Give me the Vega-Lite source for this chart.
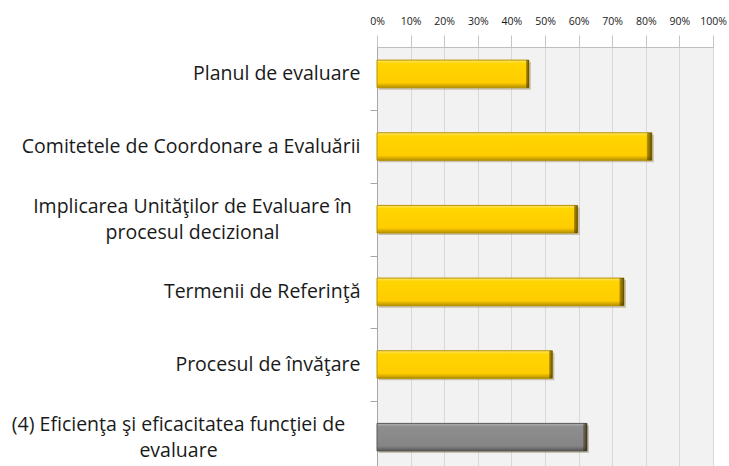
{
  "$schema": "https://vega.github.io/schema/vega-lite/v6.json",
  "autosize": "none",
  "width": 336,
  "height": 420,
  "padding": {"left": 377, "top": 47, "right": 16, "bottom": 0},
  "background": "white",
  "config": {
    "view": {"fill": "#f2f2f2", "stroke": "#c4c4c4"},
    "axisX": {"labelOverlap": false, "labelFlush": false, "labelSeparation": 0, "labelBound": false}
  },
  "data": {"values": [
    {"cat": "Planul de evaluare", "value": 0.452, "group": "sub"},
    {"cat": "Comitetele de Coordonare a Evaluării", "value": 0.818, "group": "sub"},
    {"cat": "Implicarea Unităţilor de Evaluare în|procesul decizional", "value": 0.597, "group": "sub"},
    {"cat": "Termenii de Referinţă", "value": 0.735, "group": "sub"},
    {"cat": "Procesul de învăţare", "value": 0.522, "group": "sub"},
    {"cat": "(4) Eficienţa şi eficacitatea funcţiei de|evaluare", "value": 0.625, "group": "total"}
  ]},
  "encoding": {
    "x": {
      "field": "value", "type": "quantitative",
      "scale": {"domain": [0, 1], "nice": false},
      "axis": {
        "orient": "top", "title": null, "format": ".0%",
        "values": [0, 0.1, 0.2, 0.3, 0.4, 0.5, 0.6, 0.7, 0.8, 0.9, 1],
        "labelOverlap": false,
        "labelSeparation": 0,
        "labelFlush": false,
        "labelFont": "Open Sans", "labelFontSize": 10.5, "labelColor": "#1a1a1a",
        "tickSize": 12, "tickColor": "#c4c4c4", "labelPadding": 9,
        "domainColor": "#bfbfbf",
        "grid": true,
        "gridColor": "#d9d9d9"
      }
    },
    "y": {
      "field": "cat", "type": "nominal", "sort": null,
      "scale": {"paddingInner": 0.62, "paddingOuter": 0.2, "align": 0.45},
      "axis": {
        "title": null,
        "labelExpr": "split(datum.label, '|')",
        "labelFont": "Open Sans",
        "labelFontSize": 19.5,
        "labelColor": "#1a1a1a",
        "labelLimit": 400,
        "labelLineHeight": 26,
        "tickOffset": 36.3,
        "tickSize": 7,
        "tickColor": "#a6a6a6",
        "domainColor": "#a6a6a6",
        "labelAlign": {"condition": {"test": "indexof(datum.value, '|') >= 0", "value": "center"}, "value": "right"},
        "labelOffset": {"condition": {"test": "indexof(datum.value, '|') >= 0", "value": -48.8}, "value": -36.3},
        "labelPadding": {"condition": [
          {"test": "indexof(datum.value, 'Implicarea') >= 0", "value": 178},
          {"test": "indexof(datum.value, 'Eficien') >= 0", "value": 192}
        ], "value": 10}
      }
    }
  },
  "layer": [
    {
      "mark": {"type": "bar", "color": "#7a6a40", "opacity": 0.35, "xOffset": 2, "yOffset": 2}
    },
    {
      "transform": [{"filter": "datum.group === 'sub'"}],
      "mark": {
        "type": "bar",
        "stroke": "#b89200", "strokeWidth": 1,
        "color": {"gradient": "linear", "x1": 0, "y1": 0, "x2": 0, "y2": 1,
          "stops": [
            {"offset": 0, "color": "#ffe66e"},
            {"offset": 0.12, "color": "#ffd500"},
            {"offset": 0.82, "color": "#ffcc00"},
            {"offset": 1, "color": "#b38f00"}
          ]}
      }
    },
    {
      "transform": [{"filter": "datum.group === 'total'"}],
      "mark": {
        "type": "bar",
        "stroke": "#595959", "strokeWidth": 1,
        "color": {"gradient": "linear", "x1": 0, "y1": 0, "x2": 0, "y2": 1,
          "stops": [
            {"offset": 0, "color": "#b3b3b3"},
            {"offset": 0.12, "color": "#8e8e8e"},
            {"offset": 0.82, "color": "#858585"},
            {"offset": 1, "color": "#555555"}
          ]}
      }
    },
    {
      "mark": {
        "type": "bar",
        "color": {"gradient": "linear", "x1": 0, "y1": 0, "x2": 1, "y2": 0,
          "stops": [
            {"offset": 0, "color": "rgba(0,0,0,0)"},
            {"offset": 0.98, "color": "rgba(0,0,0,0)"},
            {"offset": 0.985, "color": "rgba(60,45,0,0.45)"},
            {"offset": 1, "color": "rgba(40,30,0,0.7)"}
          ]}
      }
    }
  ]
}
